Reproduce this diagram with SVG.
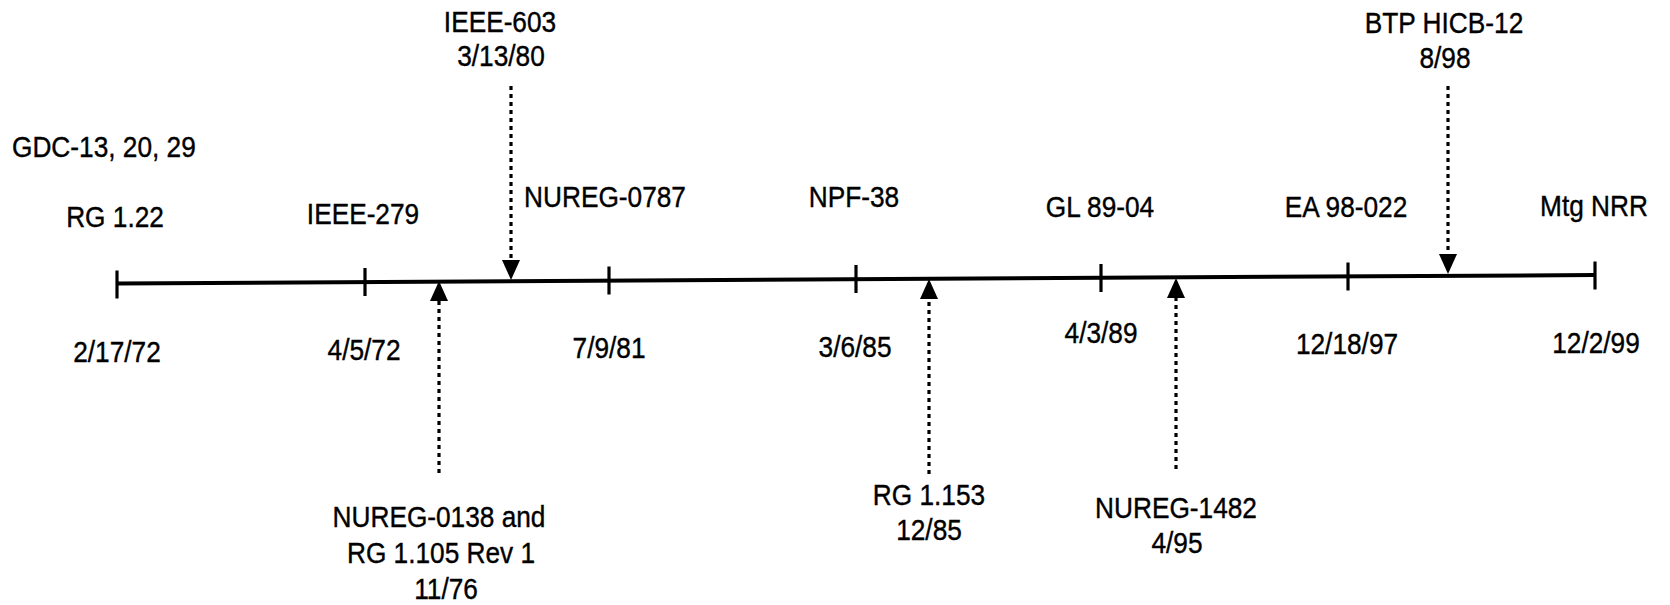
<svg xmlns="http://www.w3.org/2000/svg" width="1670" height="605" viewBox="0 0 1670 605">
<style>
.t{font-family:"Liberation Sans",Arial,sans-serif;font-size:30px;fill:#000;stroke:#000;stroke-width:0.4;text-anchor:middle}
.s{text-anchor:start}
.axis{stroke:#000;stroke-width:4;fill:none}
.tick{stroke:#000;stroke-width:3.2;fill:none}
.dot{stroke:#000;stroke-width:3.2;fill:none;stroke-dasharray:4 4}
</style>
<defs>
<marker id="ah" viewBox="0 0 20 18" refX="0" refY="9" markerWidth="20" markerHeight="18" markerUnits="userSpaceOnUse" orient="auto">
<path d="M0,0 L20,9 L0,18 z" fill="#000" stroke="none"/>
</marker>
</defs>
<rect width="1670" height="605" fill="#fff"/>
<g id="timeline">
<line class="axis" x1="117" y1="283.5" x2="1595" y2="275"/>
<line class="tick" x1="117" y1="270.5" x2="117" y2="298.5"/>
<line class="tick" x1="365" y1="268" x2="365" y2="296"/>
<line class="tick" x1="609" y1="266.5" x2="609" y2="294.5"/>
<line class="tick" x1="856" y1="265" x2="856" y2="293"/>
<line class="tick" x1="1101" y1="264" x2="1101" y2="292"/>
<line class="tick" x1="1348" y1="262.5" x2="1348" y2="290.5"/>
<line class="tick" x1="1595" y1="261.5" x2="1595" y2="289.5"/>
</g>
<g id="connectors">
<line class="dot" x1="439" y1="473" x2="439" y2="301" marker-end="url(#ah)"/>
<line class="dot" x1="929" y1="474" x2="929" y2="299" marker-end="url(#ah)"/>
<line class="dot" x1="1176" y1="469" x2="1176" y2="298" marker-end="url(#ah)"/>
<line class="dot" x1="511" y1="86" x2="511" y2="260" marker-end="url(#ah)"/>
<line class="dot" x1="1448" y1="86" x2="1448" y2="254" marker-end="url(#ah)"/>
</g>
<g id="n-gdc"><text class="t s" transform="translate(12,157) scale(.875,1)">GDC-13, 20, 29</text></g>
<g id="n-rg122">
<text class="t" transform="translate(115,227) scale(.875,1)">RG 1.22</text>
<text class="t" transform="translate(117,362) scale(.875,1)">2/17/72</text>
</g>
<g id="n-ieee279">
<text class="t" transform="translate(363,224) scale(.875,1)">IEEE-279</text>
<text class="t" transform="translate(364,360) scale(.875,1)">4/5/72</text>
</g>
<g id="n-nureg0787">
<text class="t" transform="translate(605,207) scale(.875,1)">NUREG-0787</text>
<text class="t" transform="translate(609,358) scale(.875,1)">7/9/81</text>
</g>
<g id="n-npf38">
<text class="t" transform="translate(854,207) scale(.875,1)">NPF-38</text>
<text class="t" transform="translate(855,357) scale(.875,1)">3/6/85</text>
</g>
<g id="n-gl8904">
<text class="t" transform="translate(1100,217) scale(.875,1)">GL 89-04</text>
<text class="t" transform="translate(1101,343) scale(.875,1)">4/3/89</text>
</g>
<g id="n-ea98022">
<text class="t" transform="translate(1346,217) scale(.875,1)">EA 98-022</text>
<text class="t" transform="translate(1347,354) scale(.875,1)">12/18/97</text>
</g>
<g id="n-mtgnrr">
<text class="t" transform="translate(1594,216) scale(.875,1)">Mtg NRR</text>
<text class="t" transform="translate(1596,353) scale(.875,1)">12/2/99</text>
</g>
<g id="n-ieee603">
<text class="t" transform="translate(500,32) scale(.875,1)">IEEE-603</text>
<text class="t" transform="translate(501,66) scale(.875,1)">3/13/80</text>
</g>
<g id="n-btp">
<text class="t" transform="translate(1444,33) scale(.875,1)">BTP HICB-12</text>
<text class="t" transform="translate(1445,68) scale(.875,1)">8/98</text>
</g>
<g id="n-nureg0138">
<text class="t" transform="translate(439,527) scale(.875,1)">NUREG-0138 and</text>
<text class="t" transform="translate(441,563) scale(.875,1)">RG 1.105 Rev 1</text>
<text class="t" transform="translate(446,599) scale(.875,1)">11/76</text>
</g>
<g id="n-rg1153">
<text class="t" transform="translate(929,505) scale(.875,1)">RG 1.153</text>
<text class="t" transform="translate(929,540) scale(.875,1)">12/85</text>
</g>
<g id="n-nureg1482">
<text class="t" transform="translate(1176,518) scale(.875,1)">NUREG-1482</text>
<text class="t" transform="translate(1177,553) scale(.875,1)">4/95</text>
</g>
</svg>
